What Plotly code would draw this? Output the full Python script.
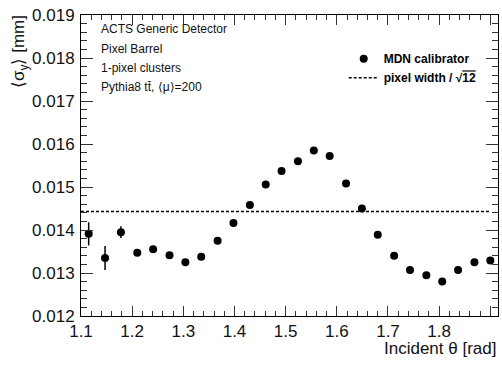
import plotly.graph_objects as go

theta = [1.115, 1.147, 1.178, 1.210, 1.241, 1.273, 1.304, 1.335, 1.367, 1.398,
         1.430, 1.461, 1.492, 1.524, 1.555, 1.586, 1.618, 1.649, 1.680, 1.712,
         1.743, 1.775, 1.806, 1.837, 1.869, 1.900]
sigma_y = [0.01391, 0.01335, 0.01395, 0.01347, 0.01355, 0.01341, 0.01325, 0.01338,
           0.01375, 0.01416, 0.01458, 0.01506, 0.01537, 0.01560, 0.01585, 0.01572,
           0.01508, 0.01450, 0.01389, 0.01340, 0.01307, 0.01295, 0.01280, 0.01307,
           0.01325, 0.01329]
sigma_err = [0.00027, 0.00028, 0.000135, 0.00005, 0.00005, 0.00005, 0.00005, 0.00005,
             0.00005, 0.00005, 0.00005, 0.00005, 0.00005, 0.00005, 0.00005, 0.00005,
             0.00005, 0.00005, 0.00005, 0.00005, 0.00005, 0.00005, 0.00005, 0.00005,
             0.00005, 0.00005]
ref_x = [1.1, 1.9]
ref_y = [0.01443, 0.01443]

x_ticks = [1.1, 1.2, 1.3, 1.4, 1.5, 1.6, 1.7, 1.8, 1.9]
y_ticks = [0.012, 0.013, 0.014, 0.015, 0.016, 0.017, 0.018, 0.019]

info_lines = ["ACTS Generic Detector", "Pixel Barrel", "1-pixel clusters",
              "Pythia8 tt\u0304, \u27e8\u03bc\u27e9=200"]

FONT = "Liberation Sans, Arial, Helvetica, sans-serif"

fig = go.Figure()
fig.add_trace(go.Scatter(
    x=theta, y=sigma_y, mode="markers", name="<b>MDN calibrator</b>",
    marker=dict(color="black", size=8),
    error_y=dict(type="data", array=sigma_err, color="black", thickness=1.5, width=0),
))
fig.add_trace(go.Scatter(
    x=ref_x, y=ref_y, mode="lines",
    name="<b>pixel width / \u221a<span style='text-decoration:overline'>12</span></b>",
    line=dict(color="black", width=1.5, dash="3px,2px"),
))

ax_common = dict(
    showline=True, linecolor="black", linewidth=1, mirror="allticks",
    ticks="inside", tickcolor="#333", showgrid=False, zeroline=False,
    tickfont=dict(family=FONT, size=17, color="#111"),
)
fig.update_xaxes(
    range=[1.1, 1.915], tickvals=x_ticks, ticktext=[f"{v:.1f}" for v in x_ticks],
    ticklen=10, minor=dict(dtick=0.02, ticklen=5, ticks="inside", tickcolor="#333", showgrid=False),
    **ax_common,
)
fig.update_yaxes(
    range=[0.012, 0.019], tickvals=y_ticks, ticktext=[f"{v:.3f}" for v in y_ticks],
    ticklen=12, minor=dict(dtick=0.0002, ticklen=6, ticks="inside", tickcolor="#333", showgrid=False),
    ticklabelstandoff=2,
    **ax_common,
)

annotations = []
for i, t in enumerate(info_lines):
    annotations.append(dict(
        xref="paper", yref="paper", x=18 / 417, y=1 - (14 + 19.5 * i) / 301,
        text=t, showarrow=False, xanchor="left", yanchor="middle",
        font=dict(family=FONT, size=12, color="#111"),
    ))
annotations.append(dict(
    xref="paper", yref="paper", x=1.0, y=-32 / 301, text="Incident \u03b8 [rad]",
    showarrow=False, xanchor="right", yanchor="middle",
    font=dict(family=FONT, size=17, color="#111"),
))
annotations.append(dict(
    xref="paper", yref="paper", x=-61 / 417, y=1.005, text="\u27e8\u03c3<sub>y</sub>\u27e9 [mm]",
    showarrow=False, xanchor="center", yanchor="top", textangle=-90,
    font=dict(family=FONT, size=17, color="#111"),
))

fig.update_layout(
    width=502, height=366,
    margin=dict(l=81, r=4, t=15, b=50),
    paper_bgcolor="white", plot_bgcolor="white",
    showlegend=True,
    legend=dict(x=0.63, y=0.903, xanchor="left", yanchor="top", bgcolor="rgba(0,0,0,0)",
                font=dict(family=FONT, size=12, color="black"), tracegroupgap=0),
    annotations=annotations,
)

fig.write_html("out.html", config={"displayModeBar": False},
               post_script="document.body.style.margin='0px';document.body.style.overflow='hidden';")
